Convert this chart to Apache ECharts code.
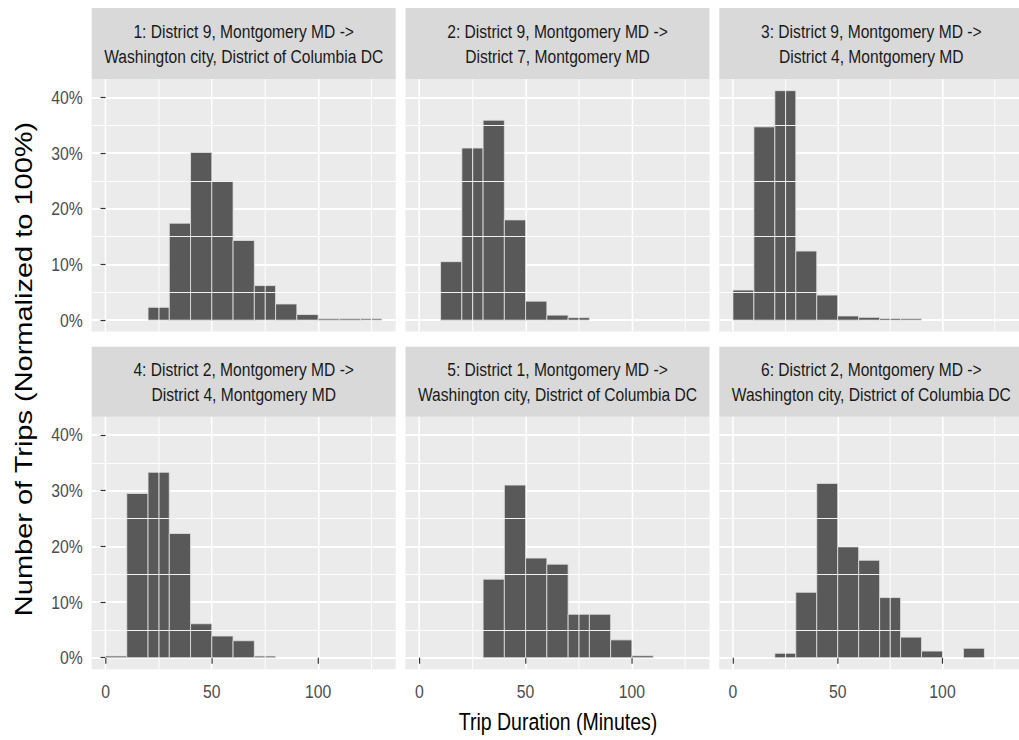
<!DOCTYPE html>
<html><head><meta charset="utf-8">
<script src="https://cdn.jsdelivr.net/npm/echarts@6/dist/echarts.min.js"></script>
<style>
html,body{margin:0;padding:0;background:#fff;overflow:hidden}
#wrap{width:1019px;height:740px;overflow:hidden;position:relative}
#c{position:absolute;left:0;top:0;height:740px;transform-origin:0 0}
</style>
</head><body><div id="wrap"><div id="c"></div></div>
<script>
// ---- data ----
const binStarts = [0, 10, 20, 30, 40, 50, 60, 70, 80, 90, 100, 110, 120];
const binWidth = 10;
const panelTitles = [
  ['1: District 9, Montgomery MD ->', 'Washington city, District of Columbia DC'],
  ['2: District 9, Montgomery MD ->', 'District 7, Montgomery MD'],
  ['3: District 9, Montgomery MD ->', 'District 4, Montgomery MD'],
  ['4: District 2, Montgomery MD ->', 'District 4, Montgomery MD'],
  ['5: District 1, Montgomery MD ->', 'Washington city, District of Columbia DC'],
  ['6: District 2, Montgomery MD ->', 'Washington city, District of Columbia DC']
];
const p1 = [0, 0, 2.3, 17.4, 30.1, 25.0, 14.3, 6.2, 2.9, 1.0, 0.25, 0.25, 0.25];
const p2 = [0, 10.5, 30.9, 35.9, 18.0, 3.4, 0.9, 0.45, 0, 0, 0, 0, 0];
const p3 = [5.4, 34.7, 41.2, 12.4, 4.5, 0.75, 0.5, 0.3, 0.25, 0, 0, 0, 0];
const p4 = [0.3, 29.5, 33.3, 22.3, 6.1, 3.9, 3.05, 0.3, 0, 0, 0, 0, 0];
const p5 = [0, 0, 0, 14.1, 31.0, 17.9, 16.8, 7.8, 7.8, 3.2, 0.35, 0, 0];
const p6 = [0, 0, 0.8, 11.75, 31.3, 19.9, 17.5, 10.8, 3.7, 1.2, 0, 1.7, 0];
const panels = [p1, p2, p3, p4, p5, p6];
const xMajorTicks = [0, 50, 100];
const xMinorGrid = [25, 75, 125];
const yMajorTicks = [0, 10, 20, 30, 40];
const yMinorGrid = [5, 15, 25, 35];
const xTitle = 'Trip Duration (Minutes)';
const yTitle = 'Number of Trips (Normalized to 100%)';

// ---- layout (the whole drawing is condensed horizontally, like the reference) ----
const S = 0.83;                       // horizontal condensation
const W = 1019 / S;
const sx = v => v / S;                // real px -> drawing px
const colLeft = [91.7, 405.5, 719.3].map(sx);
const colWidth = sx(304);
const rowTop = [79.2, 416.8];
const rowHeight = 252.4;
const stripTop = [8, 346.7];
const xMin = -6.5, xMax = 136.5, yMin = -2.06, yMax = 43.26;
const font = "'Liberation Sans', Arial, sans-serif";

const el = document.getElementById('c');
el.style.width = W + 'px';
el.style.transform = 'scaleX(' + S + ')';

const grids = [], xAxes = [], yAxes = [], series = [], graphics = [];
panels.forEach((vals, i) => {
  const r = Math.floor(i / 3), c = i % 3;
  grids.push({left: colLeft[c], top: rowTop[r], width: colWidth, height: rowHeight,
    show: true, backgroundColor: '#ebebeb', borderWidth: 0, containLabel: false});
  xAxes.push({type: 'value', gridIndex: i, min: xMin, max: xMax,
    axisLine: {show: false},
    axisTick: {show: r === 1, customValues: xMajorTicks, length: 6, lineStyle: {color: '#333333', width: 1.4}},
    axisLabel: {show: r === 1, customValues: xMajorTicks, margin: 13, color: '#4d4d4d', fontSize: 19, fontFamily: font},
    splitLine: {show: true, lineStyle: {color: '#ffffff', width: 1.9}}
  });
  yAxes.push({type: 'value', gridIndex: i, min: yMin, max: yMax,
    axisLine: {show: false},
    axisTick: {show: c === 0, customValues: yMajorTicks, length: sx(5), lineStyle: {color: '#333333', width: 1.2}},
    axisLabel: {show: c === 0, customValues: yMajorTicks, margin: sx(9), color: '#4d4d4d', fontSize: 19, fontFamily: font,
      formatter: v => v + '%'},
    splitLine: {show: true, lineStyle: {color: '#ffffff', width: 2}}
  });
  series.push({type: 'line', xAxisIndex: i, yAxisIndex: i, data: [], z: 1, silent: true,
    markLine: {silent: true, symbol: 'none', animation: false, label: {show: false},
      lineStyle: {color: '#ffffff', type: 'solid', width: 1},
      data: xMinorGrid.map(v => ({xAxis: v})).concat(yMinorGrid.map(v => ({yAxis: v, lineStyle: {color: '#ffffff', type: 'solid', width: 1}})))}
  });
  const data = [];
  vals.forEach((v, k) => { if (v > 0) data.push([binStarts[k], binStarts[k] + binWidth, v]); });
  series.push({type: 'custom', xAxisIndex: i, yAxisIndex: i, z: 3, data: data,
    encode: {x: [0, 1], y: 2},
    renderItem: function (params, api) {
      const a = api.coord([api.value(0), api.value(2)]);
      const b = api.coord([api.value(1), 0]);
      return {type: 'rect', shape: {x: a[0], y: a[1], width: b[0] - a[0], height: b[1] - a[1]},
        style: {fill: '#595959', stroke: '#e2e2e2', lineWidth: 0.9}};
    }
  });
  const sTop = stripTop[r], sH = rowTop[r] - stripTop[r];
  graphics.push({type: 'rect', left: colLeft[c], top: sTop, shape: {width: colWidth, height: sH}, style: {fill: '#d9d9d9'}, silent: true});
  graphics.push({type: 'text', x: colLeft[c] + colWidth / 2, y: sTop + sH / 2 - 12.5,
    style: {text: panelTitles[i][0], fontSize: 18.8, fontFamily: font, fill: '#1a1a1a', align: 'center', verticalAlign: 'middle'}});
  graphics.push({type: 'text', x: colLeft[c] + colWidth / 2, y: sTop + sH / 2 + 13,
    style: {text: panelTitles[i][1], fontSize: 18.8, fontFamily: font, fill: '#1a1a1a', align: 'center', verticalAlign: 'middle'}});
});
graphics.push({type: 'text', x: sx(558), y: 722,
  style: {text: xTitle, fontSize: 23.5, fontFamily: font, fill: '#000', align: 'center', verticalAlign: 'middle'}});
graphics.push({type: 'text', x: sx(24), y: 369, rotation: Math.PI / 2,
  style: {text: yTitle, fontSize: 29, fontFamily: font, fill: '#000', align: 'center', verticalAlign: 'middle'}});

const chart = echarts.init(el, null, {renderer: 'svg', width: W, height: 740});
chart.setOption({animation: false, grid: grids, xAxis: xAxes, yAxis: yAxes, series: series, graphic: graphics});
</script></body></html>
